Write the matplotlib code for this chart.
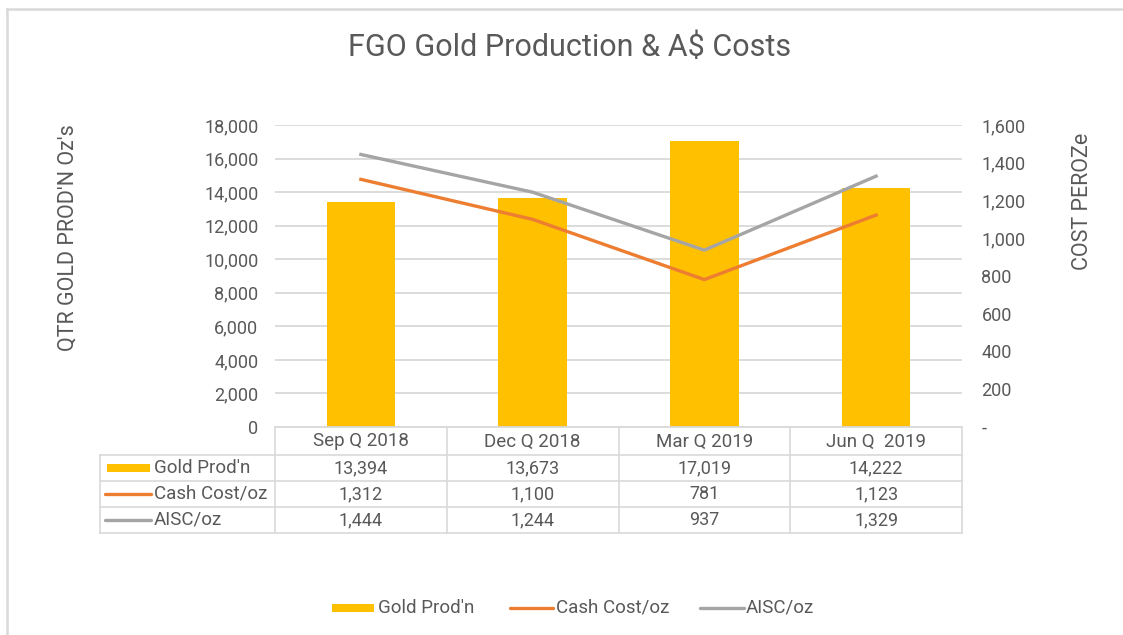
import numpy as np
import matplotlib.pyplot as plt

quarters = ['Sep Q 2018', 'Dec Q 2018', 'Mar Q 2019', 'Jun Q  2019']
gold_prod = [13394, 13673, 17019, 14222]
cash_cost = [1312, 1100, 781, 1123]
aisc = [1444, 1244, 937, 1329]
series_names = ["Gold Prod'n", 'Cash Cost/oz', 'AISC/oz']

GOLD = '#FFC000'
ORANGE = '#ED7D31'
GREY = '#A5A5A5'
TXT = '#595959'
GRID = '#D9D9D9'

plt.rcParams['font.family'] = ['Roboto', 'DejaVu Sans']

W, H = 1123, 635
fig = plt.figure(figsize=(W / 100, H / 100), dpi=100)

# main plot area in pixels: x 275..962, y 125..427
L, R, T, B = 275, 962, 125, 427
ax = fig.add_axes([L / W, 1 - B / H, (R - L) / W, (B - T) / H])
xs = np.arange(len(quarters))
ax.bar(xs, gold_prod, width=0.4, color=GOLD, zorder=2)
ax.set_xlim(-0.5, len(quarters) - 0.5)
ax.set_ylim(0, 18000)
ax.set_yticks(np.arange(0, 18001, 2000))
ax.set_yticklabels([f'{v:,}' for v in range(0, 18001, 2000)])
ax.yaxis.grid(True, color=GRID, linewidth=1.3, zorder=0)
ax.set_axisbelow(True)
ax.set_xticks([])
for s in ['top', 'right', 'left']:
    ax.spines[s].set_visible(False)
ax.spines['bottom'].set_color(GRID)
ax.spines['bottom'].set_linewidth(1.3)
ax.tick_params(axis='y', length=0, pad=12, labelsize=13, labelcolor=TXT)

ax2 = ax.twinx()
ax2.plot(xs, aisc, color=GREY, linewidth=2.4, zorder=3)
ax2.plot(xs, cash_cost, color=ORANGE, linewidth=2.4, zorder=3)
ax2.set_ylim(0, 1600)
ax2.set_yticks(np.arange(0, 1601, 200))
ax2.set_yticklabels(['-' if v == 0 else f'{v:,}' for v in range(0, 1601, 200)])
for s in ax2.spines.values():
    s.set_visible(False)
ax2.tick_params(axis='y', length=0, pad=14, labelsize=13, labelcolor=TXT)

# overlay in pixel coordinates for title, labels, table and legend
ov = fig.add_axes([0, 0, 1, 1])
ov.set_xlim(0, W)
ov.set_ylim(H, 0)
ov.axis('off')

ov.plot([7, 7], [9, H], color=GRID, linewidth=1.8)
ov.plot([7, W], [9, 9], color=GRID, linewidth=1.8)

ov.text(570, 47, 'FGO Gold Production & A$ Costs', ha='center', va='center',
        fontsize=22, color=TXT)
ov.text(68, 238, "QTR GOLD PROD'N Oz's", ha='center', va='center',
        rotation=90, fontsize=15.5, color=TXT)
ov.text(1082, 201, 'COST PEROZe', ha='center', va='center',
        rotation=90, fontsize=15.5, color=TXT)

# data table
col_w = (R - L) / len(quarters)
rows_y = [428, 455, 481, 507, 533]
lw = 1.2
for y in rows_y[1:]:
    ov.plot([100, R], [y, y], color=GRID, linewidth=lw)
for i in range(len(quarters) + 1):
    x = L + i * col_w
    ov.plot([x, x], [rows_y[0], rows_y[-1]], color=GRID, linewidth=lw)
ov.plot([100, 100], [rows_y[1], rows_y[-1]], color=GRID, linewidth=lw)

for i, q in enumerate(quarters):
    cx = L + (i + 0.5) * col_w
    ov.text(cx, (rows_y[0] + rows_y[1]) / 2, q, ha='center', va='center',
            fontsize=13.5, color=TXT)

table_vals = [gold_prod, cash_cost, aisc]
for r, vals in enumerate(table_vals):
    cy = (rows_y[r + 1] + rows_y[r + 2]) / 2
    for i, v in enumerate(vals):
        cx = L + (i + 0.5) * col_w
        ov.text(cx, cy, f'{v:,}', ha='center', va='center',
                fontsize=13, color=TXT)
    if r == 0:
        ov.add_patch(plt.Rectangle((107, cy - 4), 43, 8, color=GOLD, linewidth=0))
    else:
        ov.plot([105, 151], [cy, cy], color=[ORANGE, GREY][r - 1],
                linewidth=2.4, solid_capstyle='round')
    ov.text(154, cy, series_names[r], ha='left', va='center',
            fontsize=13.5, color=TXT)

# bottom legend
ly = 608
ov.add_patch(plt.Rectangle((332, ly - 4), 42, 8, color=GOLD, linewidth=0))
ov.text(378, ly, series_names[0], ha='left', va='center', fontsize=13.5, color=TXT)
ov.plot([510, 553], [ly, ly], color=ORANGE, linewidth=2.4, solid_capstyle='round')
ov.text(556, ly, series_names[1], ha='left', va='center', fontsize=13.5, color=TXT)
ov.plot([700, 744], [ly, ly], color=GREY, linewidth=2.4, solid_capstyle='round')
ov.text(746, ly, series_names[2], ha='left', va='center', fontsize=13.5, color=TXT)

fig.savefig('out.png', dpi=100)
